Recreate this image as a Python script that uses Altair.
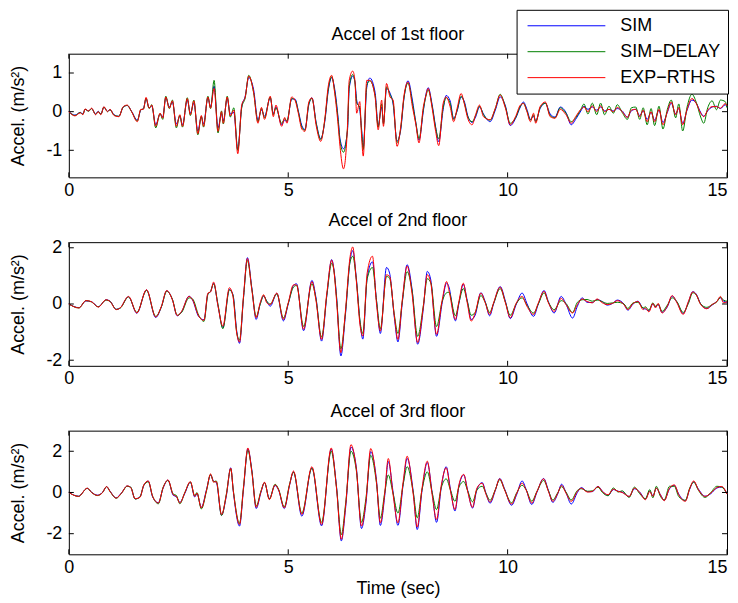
import altair as alt
import pandas as pd

# ---------------- data ----------------
T1 = [0.00,0.14,0.26,0.32,0.37,0.45,0.52,0.61,0.67,0.73,
      0.80,0.88,0.94,1.03,1.14,1.24,1.33,1.43,1.56,1.64,
      1.70,1.76,1.83,1.89,1.98,2.08,2.14,2.21,2.29,2.36,
      2.45,2.53,2.59,2.70,2.77,2.85,2.94,3.02,3.07,3.17,
      3.23,3.31,3.40,3.48,3.52,3.61,3.68,3.76,3.85,3.94,
      4.02,4.10,4.21,4.31,4.39,4.46,4.59,4.66,4.72,4.85,
      4.92,4.97,5.08,5.16,5.23,5.31,5.38,5.47,5.54,5.64,
      5.74,5.84,5.91,5.99,6.06,6.14,6.18,6.26,6.35,6.39,
      6.47,6.52,6.56,6.63,6.67,6.71,6.79,6.86,6.98,7.05,
      7.13,7.17,7.24,7.32,7.39,7.48,7.56,7.64,7.73,7.83,
      7.91,7.98,8.08,8.13,8.19,8.28,8.36,8.43,8.53,8.60,
      8.69,8.77,8.85,8.94,9.02,9.09,9.19,9.27,9.36,9.45,
      9.60,9.72,9.83,9.95,10.06,10.18,10.29,10.36,10.44,10.52,
      10.59,10.64,10.74,10.86,10.97,11.08,11.20,11.33,11.45,11.55,
      11.67,11.74,11.83,11.93,12.03,12.12,12.21,12.31,12.41,12.50,
      12.61,12.73,12.82,12.92,13.01,13.09,13.18,13.27,13.35,13.45,
      13.54,13.64,13.73,13.83,13.90,13.99,14.09,14.20,14.30,14.40,
      14.47,14.56,14.66,14.76,14.85,14.96,15.00]
R1 = [0.00,-0.11,-0.03,-0.08,0.07,0.02,0.09,-0.08,0.00,-0.08,
      0.13,0.00,0.06,-0.10,-0.13,0.13,0.17,0.00,-0.26,0.06,
      0.06,0.37,0.09,0.17,-0.38,-0.04,-0.17,0.38,0.09,0.28,
      -0.38,-0.08,-0.38,0.34,-0.08,0.28,-0.57,-0.10,-0.38,0.38,
      0.09,0.60,-0.51,0.00,-0.30,0.38,-0.11,0.04,-1.09,0.17,
      0.38,0.92,0.51,-0.30,0.11,-0.20,0.40,-0.13,0.17,-0.38,
      -0.15,-0.30,0.38,0.28,-0.04,-0.45,-0.51,0.25,0.36,-0.38,
      -0.77,-0.13,0.64,0.94,0.47,-0.38,-0.90,-1.48,-0.38,0.81,
      1.05,0.81,-0.04,0.26,-0.60,-1.15,0.81,0.81,0.38,-0.47,
      0.30,-0.38,0.73,0.38,0.30,-0.90,-0.43,0.43,0.77,0.13,
      -0.34,-0.81,0.13,0.38,0.60,0.09,-0.51,-0.88,0.21,0.38,
      0.13,-0.26,0.09,0.47,0.17,-0.17,-0.34,-0.08,0.17,-0.13,
      -0.21,0.09,0.43,0.09,-0.34,-0.13,0.17,0.21,0.00,-0.26,
      -0.04,-0.30,0.13,0.25,-0.13,-0.17,0.06,-0.08,-0.30,-0.13,
      0.06,0.12,0.00,0.15,0.00,0.15,0.00,0.06,0.00,0.11,
      0.00,-0.15,0.04,0.06,-0.13,0.04,-0.26,0.00,-0.26,0.06,
      -0.34,0.00,0.25,-0.08,0.11,-0.34,0.06,0.34,0.21,-0.04,
      -0.13,0.04,0.13,0.13,0.09,0.21,0.15]
B1 = [0.00,-0.09,-0.02,-0.06,0.06,0.02,0.08,-0.06,0.01,-0.06,
      0.12,0.01,0.05,-0.08,-0.12,0.12,0.16,0.01,-0.22,0.04,
      0.08,0.33,0.10,0.15,-0.34,-0.06,-0.14,0.36,0.12,0.25,
      -0.32,-0.12,-0.34,0.30,-0.04,0.22,-0.50,-0.14,-0.32,0.36,
      0.12,0.66,-0.42,-0.05,-0.24,0.34,-0.06,-0.02,-0.98,0.12,
      0.40,0.88,0.58,-0.22,0.05,-0.12,0.36,-0.05,0.12,-0.34,
      -0.22,-0.26,0.33,0.32,0.02,-0.36,-0.46,0.18,0.36,-0.30,
      -0.70,-0.20,0.52,0.88,0.58,-0.20,-0.70,-0.96,-0.50,0.60,
      0.92,0.78,0.30,0.05,-0.42,-0.92,0.62,0.87,0.50,-0.36,
      0.12,-0.30,0.60,0.48,0.20,-0.76,-0.50,0.36,0.80,0.30,
      -0.30,-0.74,0.02,0.40,0.62,0.18,-0.40,-0.78,0.05,0.42,
      0.28,-0.18,0.02,0.38,0.24,-0.10,-0.28,-0.14,0.12,-0.06,
      -0.26,0.04,0.38,0.15,-0.36,-0.18,0.12,0.25,0.06,-0.20,
      -0.12,-0.24,0.08,0.22,-0.06,-0.14,0.12,-0.02,-0.34,-0.20,
      0.02,0.14,0.06,0.12,0.04,0.12,0.02,0.06,0.02,0.08,
      0.02,-0.14,0.02,0.06,-0.10,0.02,-0.20,-0.02,-0.22,0.04,
      -0.28,-0.02,0.22,-0.06,0.08,-0.30,0.04,0.30,0.22,-0.02,
      -0.12,0.02,0.12,0.14,0.08,0.18,0.12]
G1 = [0.00,-0.10,-0.02,-0.07,0.06,0.01,0.08,-0.07,0.00,-0.07,
      0.12,0.00,0.05,-0.09,-0.12,0.12,0.16,0.00,-0.24,0.05,
      0.07,0.35,0.08,0.18,-0.42,-0.05,-0.20,0.40,0.08,0.30,
      -0.42,-0.10,-0.40,0.36,-0.10,0.30,-0.60,-0.12,-0.40,0.40,
      0.08,0.81,-0.55,0.02,-0.32,0.40,-0.14,0.10,-1.00,0.10,
      0.36,0.94,0.50,-0.26,0.08,-0.16,0.38,-0.08,0.10,-0.30,
      -0.18,-0.24,0.34,0.30,0.00,-0.40,-0.48,0.20,0.34,-0.32,
      -0.72,-0.16,0.56,0.90,0.52,-0.26,-0.76,-1.05,-0.45,0.66,
      0.96,0.76,0.22,0.12,-0.48,-0.98,0.68,0.80,0.42,-0.40,
      0.20,-0.32,0.64,0.44,0.24,-0.80,-0.46,0.38,0.74,0.22,
      -0.30,-0.70,0.06,0.36,0.56,0.14,-0.42,-0.70,0.10,0.36,
      0.22,-0.20,0.04,0.40,0.20,-0.12,-0.26,-0.10,0.14,-0.08,
      -0.22,0.08,0.45,0.12,-0.30,-0.16,0.14,0.22,0.02,-0.22,
      -0.08,-0.26,0.10,0.22,-0.10,-0.16,0.10,-0.04,-0.26,-0.16,
      0.06,0.20,-0.06,0.22,-0.08,0.22,-0.08,0.14,-0.04,0.18,
      -0.02,-0.20,0.10,0.12,-0.20,0.10,-0.34,0.08,-0.36,0.14,
      -0.45,0.06,0.30,-0.16,0.20,-0.50,0.12,0.45,0.24,-0.14,
      -0.30,0.10,0.28,0.05,0.30,0.26,0.10]

T2 = [0.00,0.23,0.39,0.52,0.67,0.85,0.94,1.08,1.17,1.36,
      1.55,1.77,1.98,2.11,2.23,2.36,2.47,2.57,2.74,2.82,
      2.96,3.08,3.17,3.23,3.30,3.40,3.51,3.66,3.74,3.83,
      3.89,3.98,4.07,4.17,4.27,4.36,4.44,4.51,4.59,4.74,
      4.89,5.00,5.12,5.19,5.35,5.54,5.63,5.76,5.88,5.99,
      6.04,6.10,6.20,6.30,6.41,6.47,6.55,6.64,6.70,6.80,
      6.92,7.01,7.10,7.24,7.31,7.42,7.50,7.60,7.71,7.82,
      7.95,8.08,8.17,8.25,8.38,8.51,8.61,8.66,8.81,8.89,
      8.99,9.08,9.17,9.26,9.39,9.49,9.59,9.68,9.83,9.95,
      10.06,10.20,10.33,10.44,10.59,10.70,10.83,10.93,11.06,11.22,
      11.33,11.48,11.59,11.70,11.81,11.93,12.04,12.16,12.27,12.39,
      12.50,12.65,12.74,12.86,12.97,13.09,13.14,13.22,13.31,13.37,
      13.43,13.52,13.64,13.75,13.86,14.00,14.12,14.22,14.30,14.40,
      14.54,14.66,14.77,14.85,14.92,15.00]
R2 = [0.00,-0.14,0.12,0.08,-0.11,0.15,0.09,-0.20,-0.14,0.27,
      -0.32,0.51,-0.46,-0.08,0.48,0.15,-0.41,-0.26,0.27,0.15,
      -0.43,-0.58,0.39,0.43,0.78,-0.08,-0.79,0.58,0.27,-1.08,
      -1.35,0.27,1.62,0.51,-0.49,0.04,0.33,0.04,-0.02,0.39,
      -0.55,0.04,0.68,0.68,-0.90,0.80,0.15,-1.26,0.39,1.56,
      1.21,0.15,-1.73,-0.32,1.68,2.03,0.86,-0.79,-1.14,1.11,
      1.70,0.04,-0.96,1.04,0.98,-0.45,-1.26,0.15,1.35,0.39,
      -1.37,-0.08,1.04,0.74,-1.08,0.15,0.80,0.51,-0.55,0.09,
      0.74,0.04,-0.61,-0.32,0.39,0.04,-0.37,0.04,0.60,0.04,
      -0.49,0.04,0.27,-0.08,-0.37,0.04,0.45,0.04,-0.26,0.20,
      -0.02,-0.32,-0.02,0.18,0.09,0.04,0.18,0.04,-0.02,0.02,
      0.12,-0.02,-0.20,0.02,0.09,-0.20,-0.14,-0.28,0.02,-0.14,
      0.02,-0.32,-0.08,0.30,0.04,-0.37,0.09,0.43,0.33,-0.02,
      -0.17,-0.02,0.09,0.27,0.04,0.08]
B2 = [0.00,-0.13,0.11,0.08,-0.10,0.15,0.10,-0.19,-0.14,0.26,
      -0.33,0.50,-0.48,-0.10,0.47,0.16,-0.42,-0.28,0.28,0.14,
      -0.45,-0.56,0.36,0.44,0.74,-0.06,-0.84,0.52,0.34,-1.00,
      -1.40,0.20,1.65,0.58,-0.55,0.00,0.28,0.10,-0.08,0.38,
      -0.60,0.00,0.66,0.72,-0.95,0.84,0.25,-1.32,0.30,1.58,
      1.25,0.30,-1.85,-0.45,1.55,1.90,0.95,-0.70,-1.25,0.95,
      1.50,0.15,-1.05,1.30,1.10,-0.50,-1.35,0.05,1.40,0.55,
      -1.43,-0.15,1.16,0.85,-1.15,0.05,0.75,0.62,-0.60,0.02,
      0.70,0.12,-0.55,-0.40,0.40,0.08,-0.42,0.00,0.62,0.10,
      -0.52,0.00,0.39,0.02,-0.44,0.00,0.48,0.08,-0.32,0.27,
      0.00,-0.50,-0.08,0.22,0.06,0.05,0.16,0.08,-0.04,0.02,
      0.14,0.00,-0.22,0.00,0.10,-0.16,-0.18,-0.24,0.00,-0.10,
      -0.02,-0.30,-0.10,0.28,0.06,-0.34,0.06,0.44,0.35,0.00,
      -0.16,-0.04,0.10,0.22,0.10,0.06]
G2 = [0.00,-0.14,0.12,0.07,-0.10,0.14,0.09,-0.19,-0.15,0.25,
      -0.30,0.48,-0.44,-0.10,0.45,0.17,-0.40,-0.30,0.22,0.18,
      -0.40,-0.62,0.34,0.45,0.72,-0.02,-0.88,0.50,0.32,-1.05,
      -1.28,0.22,1.55,0.55,-0.45,-0.02,0.30,0.10,0.00,0.36,
      -0.50,0.02,0.60,0.66,-0.80,0.72,0.20,-1.18,0.32,1.45,
      1.20,0.25,-1.60,-0.38,1.50,1.70,0.90,-0.65,-1.05,0.90,
      1.30,0.15,-0.88,0.98,0.92,-0.40,-1.05,0.10,1.15,0.50,
      -1.15,-0.05,0.90,0.75,-0.80,0.10,0.40,0.42,-0.42,0.05,
      0.55,0.10,-0.40,-0.30,0.30,0.06,-0.30,0.02,0.55,0.06,
      -0.40,0.02,0.22,-0.04,-0.32,0.00,0.40,0.06,-0.20,0.12,
      0.02,-0.30,0.06,0.15,0.16,0.10,0.14,0.08,0.02,0.04,
      0.06,0.00,-0.16,0.04,0.06,-0.14,-0.10,-0.22,0.04,-0.08,
      0.00,-0.26,-0.04,0.22,0.08,-0.30,0.02,0.40,0.32,0.00,
      -0.12,-0.02,0.08,0.24,0.14,0.10]

T3 = [0.00,0.22,0.42,0.52,0.65,0.77,0.86,0.94,1.08,1.20,
      1.33,1.41,1.51,1.62,1.71,1.81,1.91,2.04,2.15,2.26,
      2.38,2.45,2.53,2.64,2.77,2.87,2.92,3.02,3.14,3.23,
      3.30,3.36,3.48,3.59,3.69,3.75,3.89,3.98,4.08,4.17,
      4.27,4.38,4.46,4.57,4.70,4.78,4.91,5.03,5.12,5.31,
      5.54,5.76,5.98,6.10,6.21,6.31,6.43,6.55,6.67,6.77,
      6.88,7.01,7.10,7.20,7.28,7.39,7.50,7.62,7.71,7.85,
      7.94,8.05,8.17,8.28,8.38,8.49,8.60,8.70,8.80,8.89,
      9.00,9.09,9.20,9.30,9.42,9.51,9.60,9.72,9.82,9.93,
      10.09,10.21,10.33,10.42,10.55,10.67,10.82,10.93,11.03,11.14,
      11.23,11.33,11.45,11.59,11.68,11.82,11.93,12.06,12.16,12.29,
      12.41,12.52,12.61,12.77,12.89,13.01,13.14,13.24,13.31,13.39,
      13.48,13.57,13.69,13.80,13.90,14.05,14.15,14.24,14.35,14.50,
      14.63,14.77,14.88,15.00]
R3 = [0.00,-0.19,0.21,0.00,-0.14,0.00,0.29,0.05,-0.27,-0.03,
      0.32,0.24,-0.30,-0.24,0.37,0.56,-0.19,-0.51,0.24,0.61,
      -0.11,-0.19,-0.51,-0.03,0.53,-0.19,-0.03,-0.75,0.13,0.90,
      0.50,0.53,-1.07,-0.11,1.18,0.05,-1.55,0.21,2.16,1.01,
      -0.72,0.05,0.50,-0.35,0.37,0.13,-0.75,0.37,1.04,-1.07,
      1.25,-1.55,2.16,0.21,-2.27,-0.59,2.32,1.17,-1.63,-0.43,
      2.13,0.53,-1.47,-0.03,1.65,-0.11,-1.47,0.53,1.76,-0.11,
      -1.68,0.21,1.52,-0.11,-1.31,0.37,1.20,0.05,-0.83,0.37,
      0.88,0.05,-0.72,0.21,0.45,-0.11,-0.46,0.13,0.66,0.13,
      -0.56,-0.03,0.45,0.13,-0.51,0.05,0.66,0.05,-0.43,-0.05,
      0.34,-0.03,-0.43,0.05,0.21,0.02,0.05,0.29,0.05,-0.11,
      0.16,0.05,0.00,-0.19,0.21,0.00,-0.35,0.05,-0.19,0.21,
      -0.11,-0.40,0.21,0.37,-0.11,-0.43,0.18,0.56,0.13,-0.19,
      -0.03,0.24,0.29,-0.08]
B3 = [0.00,-0.18,0.20,0.01,-0.13,0.01,0.28,0.06,-0.26,-0.02,
      0.31,0.25,-0.31,-0.22,0.35,0.55,-0.22,-0.50,0.22,0.60,
      -0.14,-0.20,-0.48,-0.06,0.50,-0.22,-0.06,-0.72,0.16,0.85,
      0.55,0.50,-1.10,-0.16,1.20,0.02,-1.63,0.15,2.12,1.10,
      -0.78,0.02,0.48,-0.30,0.34,0.12,-0.78,0.35,1.00,-1.15,
      1.20,-1.62,2.10,0.30,-2.35,-0.70,2.20,1.25,-1.75,-0.55,
      1.98,0.62,-1.60,-0.15,1.50,0.02,-1.60,0.40,1.65,0.02,
      -1.80,0.10,1.45,0.00,-1.45,0.28,1.25,0.12,-0.90,0.30,
      0.85,0.10,-0.76,0.14,0.48,-0.06,-0.52,0.10,0.68,0.18,
      -0.62,-0.08,0.56,0.16,-0.58,0.02,0.68,0.10,-0.48,-0.08,
      0.40,0.00,-0.56,0.00,0.24,0.04,0.04,0.30,0.06,-0.14,
      0.14,0.06,0.02,-0.20,0.18,0.02,-0.32,0.06,-0.16,0.20,
      -0.10,-0.38,0.18,0.34,-0.08,-0.40,0.16,0.52,0.16,-0.18,
      -0.06,0.22,0.26,-0.06]
G3 = [0.00,-0.19,0.20,0.00,-0.15,0.00,0.28,0.04,-0.28,-0.04,
      0.30,0.26,-0.32,-0.22,0.36,0.52,-0.18,-0.55,0.26,0.58,
      -0.08,-0.14,-0.55,-0.02,0.50,-0.16,0.00,-0.80,0.10,0.88,
      0.52,0.56,-1.12,-0.08,1.15,0.08,-1.50,0.25,2.05,1.05,
      -0.66,0.08,0.48,-0.32,0.40,0.16,-0.70,0.40,0.98,-1.00,
      1.18,-1.45,2.00,0.25,-2.05,-0.50,2.00,1.10,-1.45,-0.30,
      1.80,0.48,-1.25,0.00,0.85,-0.05,-1.00,0.40,1.25,0.00,
      -1.23,0.15,1.00,0.00,-0.83,0.25,0.66,0.10,-0.43,0.26,
      0.53,0.08,-0.45,0.12,0.30,-0.05,-0.38,0.14,0.62,0.14,
      -0.50,0.00,0.35,0.14,-0.42,0.06,0.58,0.08,-0.36,-0.02,
      0.28,0.02,-0.36,0.10,0.18,0.06,0.08,0.26,0.00,-0.16,
      0.22,0.02,0.08,-0.24,0.26,-0.06,-0.30,0.14,-0.26,0.30,
      -0.18,-0.36,0.30,0.30,-0.20,-0.38,0.22,0.50,0.10,-0.24,
      0.00,0.30,0.26,-0.06]

SERIES = ["SIM", "SIM\u2212DELAY", "EXP\u2212RTHS"]
COLORS = ["#0000ff", "#008000", "#ff0000"]
TITLES = ["Accel of 1st floor", "Accel of 2nd floor", "Accel of 3rd floor"]
YDOMAINS = [[-1.7, 1.5], [-2.2, 2.2], [-3.0, 3.0]]
XTICKS = [0, 5, 10, 15]
YTICKS = [[-1, 0, 1], [-2, 0, 2], [-2, 0, 2]]
YTITLE = "Accel. (m/s\u00b2)"
XTITLE = "Time (sec)"

# ---------------- styling ----------------
W, H = 660, 124
FONT = "Liberation Sans"
FS = 18
TL = 5  # inward tick length

LEGEND = alt.Legend(
    orient="none", legendX=449, legendY=-44, title=None,
    symbolType="M-1,0H14.6", symbolSize=100, symbolStrokeWidth=1,
    labelFontSize=FS, labelFont=FONT, labelColor="black", labelOffset=79,
    strokeColor="black", fillColor="white", padding=7, rowPadding=8,
    cornerRadius=0,
)

LAST_ALIGN = {"condition": {"test": "datum.value >= 15", "value": "right"},
              "value": "center"}


def panel(i, T, B, G, R, last):
    xs = alt.Scale(domain=[0, 15], nice=False, zero=False)
    ys = alt.Scale(domain=YDOMAINS[i], nice=False, zero=False)
    xaxis = alt.Axis(values=XTICKS, title=XTITLE if last else None, ticks=False,
                     domain=False, grid=False, labelPadding=4, labelFontSize=FS,
                     labelFont=FONT, labelColor="black", titleFont=FONT,
                     titleFontSize=FS, titleFontWeight="normal", titleColor="black",
                     titlePadding=3, labelFlush=False, labelAlign=LAST_ALIGN)
    yaxis = alt.Axis(values=YTICKS[i], title=YTITLE, ticks=False, domain=False,
                     grid=False, labelPadding=7, labelFontSize=FS, labelFont=FONT,
                     labelColor="black", labelExpr="'' + datum.value",
                     titleFont=FONT, titleFontSize=FS, titleFontWeight="normal",
                     titleColor="black", titleX=-50, titleY=H / 2,
                     titleAlign="center", titleBaseline="middle", titleAngle=270)
    color = alt.Color("s:N", scale=alt.Scale(domain=SERIES, range=COLORS), legend=LEGEND)
    layers = []
    for s, vals in zip(SERIES, [B, G, R]):
        df = pd.DataFrame({"t": T, "v": vals, "s": s})
        layers.append(
            alt.Chart(df).mark_line(strokeWidth=1, interpolate="monotone").encode(
                x=alt.X("t:Q", scale=xs, axis=xaxis),
                y=alt.Y("v:Q", scale=ys, axis=yaxis),
                color=color,
            )
        )
    xt = pd.DataFrame({"t": XTICKS})
    yt = pd.DataFrame({"v": YTICKS[i]})
    rule = dict(color="black", strokeWidth=1)
    layers.append(alt.Chart(xt).mark_rule(**rule).encode(
        x=alt.X("t:Q", scale=xs, axis=xaxis), y=alt.value(H), y2=alt.value(H - TL)))
    layers.append(alt.Chart(xt).mark_rule(**rule).encode(
        x=alt.X("t:Q", scale=xs, axis=xaxis), y=alt.value(0), y2=alt.value(TL)))
    layers.append(alt.Chart(yt).mark_rule(**rule).encode(
        y=alt.Y("v:Q", scale=ys, axis=yaxis), x=alt.value(0), x2=alt.value(TL)))
    layers.append(alt.Chart(yt).mark_rule(**rule).encode(
        y=alt.Y("v:Q", scale=ys, axis=yaxis), x=alt.value(W - TL), x2=alt.value(W)))
    return alt.layer(*layers).properties(
        width=W, height=H,
        title=alt.TitleParams(TITLES[i], font=FONT, fontSize=FS, fontWeight="normal",
                              color="black", offset=9),
    )


p1 = panel(0, T1, B1, G1, R1, False)
p2 = panel(1, T2, B2, G2, R2, False)
p3 = panel(2, T3, B3, G3, R3, True)

chart = (
    alt.vconcat(p1, p2, p3, spacing=65, bounds="flush")
    .resolve_scale(x="independent", y="independent", color="shared")
    .resolve_legend(color="shared")
    .properties(padding={"left": 1, "top": 0, "right": 0, "bottom": 0})
    .configure_view(stroke="black", strokeWidth=1)
)

chart.save("out.html", embed_options={"renderer": "svg", "actions": False})
